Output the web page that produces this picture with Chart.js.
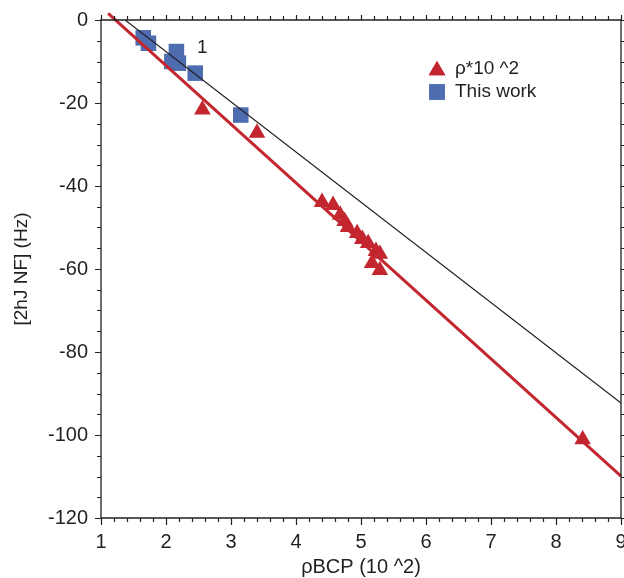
<!DOCTYPE html>
<html>
<head>
<meta charset="utf-8">
<script src="https://cdn.jsdelivr.net/npm/chart.js@4.4.1/dist/chart.umd.min.js"></script>
<style>
html,body{margin:0;padding:0;background:#fff;overflow:hidden;}
#wrap{width:624px;height:578px;position:relative;overflow:hidden;}
</style>
</head>
<body>
<div id="wrap"><canvas id="c" width="632" height="578"></canvas></div>
<script>
// ---- data ----
const thisWorkX = [1.65, 1.73, 2.16, 2.09, 2.19, 2.45, 3.15];
const thisWorkY = [-4.3, -5.6, -7.6, -10.0, -10.4, -12.8, -22.9];
const rhoX = [2.56, 3.40, 4.40, 4.57, 4.68, 4.75, 4.80, 4.94, 5.02, 5.11, 5.23, 5.29, 5.17, 5.29, 8.41];
const rhoY = [-21.6, -27.2, -43.9, -44.6, -47.0, -48.5, -49.9, -51.4, -52.8, -53.8, -55.7, -56.4, -58.6, -60.3, -101.1];
const blackLineX = [1.37, 9];
const blackLineY = [0, -92.3];
const redLineX = [1.11, 9];
const redLineY = [1.6, -109.9];
const seriesNames = ['ρ*10 ^2', 'This work'];
const xTitle = 'ρBCP (10 ^2)';
const yTitle = '[2hJ NF] (Hz)';
const annotationText = ['1'];
const annotationX = [2.56];
const annotationY = [-6.8];

const RED = '#c3262e';
const BLUE = '#4e6db0';
const INK = '#231f20';
const FONT = 'Liberation Sans, Arial, Helvetica, sans-serif';

function pts(xs, ys){ return xs.map((x,i)=>({x:x, y:ys[i]})); }

const framePlugin = {
  id: 'frameTicks',
  afterDatasetsDraw(chart){
    const ctx = chart.ctx, xs = chart.scales.x, ys = chart.scales.y;
    const L = xs.left, R = xs.right, T = ys.top, B = ys.bottom;
    ctx.save();
    ctx.strokeStyle = INK; ctx.lineWidth = 1.3;
    ctx.beginPath();
    ctx.rect(L, T, R - L, B - T);
    ctx.stroke();
    ctx.lineWidth = 1.2;
    ctx.beginPath();
    for (let k = 0; k <= 40; k++){
      const v = 1 + k * 0.2;
      const px = Math.round(xs.getPixelForValue(v)) + 0.5;
      const major = (k % 5 === 0);
      ctx.moveTo(px, B); ctx.lineTo(px, B + (major ? 7 : 4));
      ctx.moveTo(px, T); ctx.lineTo(px, T - (major ? 5 : 4));
    }
    for (let k = 0; k <= 24; k++){
      const v = -120 + k * 5;
      const py = Math.round(ys.getPixelForValue(v)) + 0.5;
      const major = (k % 4 === 0);
      ctx.moveTo(L, py); ctx.lineTo(L - (major ? 6 : 4), py);
      ctx.moveTo(R, py); ctx.lineTo(R + 4, py);
    }
    ctx.stroke();

    ctx.fillStyle = INK;
    ctx.font = '19px ' + FONT;
    ctx.textAlign = 'center'; ctx.textBaseline = 'middle';
    annotationText.forEach((t,i)=>{
      ctx.fillText(t, xs.getPixelForValue(annotationX[i]), ys.getPixelForValue(annotationY[i]));
    });

    const items = [
      {text: seriesNames[0], style: 'triangle', color: RED, r: 9.6},
      {text: seriesNames[1], style: 'rect', color: BLUE, r: 11}
    ];
    const lx = 437, ly0 = 69, dy = 23;
    items.forEach((it, i)=>{
      const y = ly0 + i * dy;
      ctx.fillStyle = it.color;
      Chart.helpers.drawPoint(ctx, {pointStyle: it.style, radius: it.r, borderWidth: 0}, lx, y + (it.style==='triangle'?1.5:0));
      ctx.fill();
      ctx.fillStyle = INK;
      ctx.textAlign = 'left'; ctx.textBaseline = 'middle';
      ctx.font = '19px ' + FONT;
      ctx.fillText(it.text, 455, y);
    });
    ctx.restore();
  }
};

new Chart(document.getElementById('c'), {
  type: 'scatter',
  data: {
    datasets: [
      {label: 'fit2', data: pts(redLineX, redLineY), showLine: true, borderColor: RED, borderWidth: 3, pointRadius: 0, clip: false},
      {label: 'fit1', data: pts(blackLineX, blackLineY), showLine: true, borderColor: INK, borderWidth: 1.1, pointRadius: 0, clip: false},
      {label: seriesNames[1], data: pts(thisWorkX, thisWorkY), pointStyle: 'rect', pointRadius: 11, pointBackgroundColor: BLUE, pointBorderWidth: 0, borderWidth: 0},
      {label: seriesNames[0], data: pts(rhoX, rhoY), pointStyle: 'triangle', pointRadius: 9.6, pointBackgroundColor: RED, pointBorderWidth: 0, borderWidth: 0}
    ]
  },
  options: {
    responsive: false,
    animation: false,
    layout: {padding: {top: 20, right: 0, left: 0, bottom: 0}},
    plugins: {legend: {display: false}, tooltip: {enabled: false}},
    scales: {
      x: {
        type: 'linear', min: 1, max: 9,
        grid: {display: false, drawTicks: false},
        border: {display: false},
        ticks: {stepSize: 1, color: INK, font: {family: FONT, size: 20}, padding: 12, maxRotation: 0, autoSkip: false},
        title: {display: true, text: xTitle, color: INK, font: {family: FONT, size: 20, lineHeight: 1}, padding: {top: 0, bottom: 1}},
        afterFit(s){ s.height = 60; s.paddingLeft = 0; s.paddingRight = 0; }
      },
      y: {
        type: 'linear', min: -120, max: 0,
        grid: {display: false, drawTicks: false},
        border: {display: false},
        ticks: {stepSize: 20, color: INK, font: {family: FONT, size: 20}, padding: 13, autoSkip: false},
        title: {display: true, text: yTitle, color: INK, font: {family: FONT, size: 19, lineHeight: 1}, padding: {top: 12, bottom: 0}},
        afterFit(s){ s.width = 101; s.paddingTop = 0; s.paddingBottom = 0; }
      }
    }
  },
  plugins: [framePlugin]
});
</script>
</body>
</html>
